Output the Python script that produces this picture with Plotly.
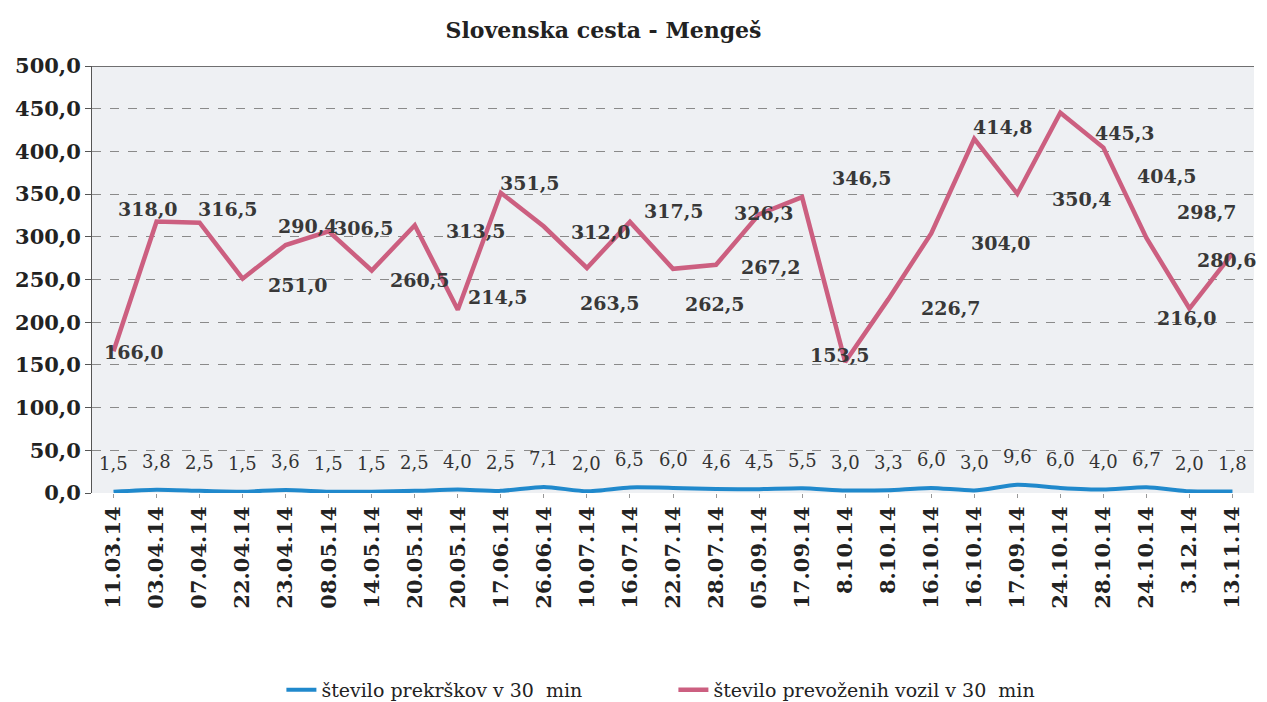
import plotly.graph_objects as go

dates = ["11.03.14", "03.04.14", "07.04.14", "22.04.14", "23.04.14", "08.05.14", "14.05.14",
         "20.05.14", "20.05.14", "17.06.14", "26.06.14", "10.07.14", "16.07.14", "22.07.14",
         "28.07.14", "05.09.14", "17.09.14", "8.10.14", "8.10.14", "16.10.14", "16.10.14",
         "17.09.14", "24.10.14", "28.10.14", "24.10.14", "3.12.14", "13.11.14"]

prekrskov = [1.5, 3.8, 2.5, 1.5, 3.6, 1.5, 1.5, 2.5, 4.0, 2.5, 7.1, 2.0, 6.5, 6.0, 4.6, 4.5, 5.5,
             3.0, 3.3, 6.0, 3.0, 9.6, 6.0, 4.0, 6.7, 2.0, 1.8]

vozil = [166.0, 318.0, 316.5, 251.0, 290.4, 306.5, 260.5, 313.5, 214.5, 351.5, 312.0, 263.5,
         317.5, 262.5, 267.2, 326.3, 346.5, 153.5, 226.7, 304.0, 414.8, 350.4, 445.3, 404.5,
         298.7, 216.0, 280.6]

name_blue = "število prekrškov v 30  min"
name_pink = "število prevoženih vozil v 30  min"

# label offsets in pixels (dx, dy up) for the pink series, as placed in the original
pink_label_dx = [20, -9, 28, 55, 22, 35, 48, 61, 40, 29, 57, 23, 44, 42, 55, 5, 60, -5, 63, 70,
                 29, 65, 65, 64, 61, -2, -5]
pink_label_dy = [-1, 12, 14, -6, 19, 3, -9, -6, 13, 10, -5, -35, 11, -35, -2, 1, 19, 7, -9, -10,
                 12, -5, -20, -28, 26, -9, -7]

serif = "DejaVu Serif"
x = list(range(len(dates)))

def fmt(v):
    return f"{v:.1f}".replace(".", ",")

fig = go.Figure()
fig.add_trace(go.Scatter(x=x, y=prekrskov, mode="lines", name=name_blue,
                         line=dict(color="#2089cc", width=4, shape="spline", smoothing=0.6)))
fig.add_trace(go.Scatter(x=x, y=vozil, mode="lines", name=name_pink,
                         line=dict(color="#cc5f80", width=4.5)))

annotations = []
for i, v in enumerate(prekrskov):
    annotations.append(dict(x=x[i], y=v, xref="x", yref="y", text=fmt(v), showarrow=False,
                            yshift=28, font=dict(family=serif, size=18, color="#333333")))
for i, v in enumerate(vozil):
    annotations.append(dict(x=x[i], y=v, xref="x", yref="y", text=fmt(v), showarrow=False,
                            xshift=pink_label_dx[i], yshift=pink_label_dy[i],
                            font=dict(family=serif, size=19, color="#383838", weight="bold")))

fig.update_layout(
    width=1259, height=694,
    margin=dict(l=84, r=13, t=58, b=209, autoexpand=False),
    paper_bgcolor="white", plot_bgcolor="#eef0f3",
    separators=",.",
    font=dict(family=serif),
    title=dict(text="Slovenska cesta - Mengeš", x=0.473, xanchor="center", xref="container",
               y=0.968, yanchor="middle", yref="container",
               font=dict(family=serif, size=22, color="#222222", weight="bold")),
    annotations=annotations,
    showlegend=True,
    legend=dict(orientation="h", x=0.163, xanchor="left", y=-0.461, yanchor="middle",
                entrywidth=347, entrywidthmode="pixels",
                font=dict(family=serif, size=19, color="#222222"), bgcolor="rgba(0,0,0,0)"),
)
fig.update_xaxes(range=[-0.5, len(dates) - 0.5], tickmode="array", tickvals=x, ticktext=dates,
                 tickangle=-90, showgrid=False, zeroline=False,
                 ticks="outside", ticklen=4, tickcolor="#999999",
                 tickfont=dict(family=serif, size=21, color="#222222", weight="bold"))
fig.update_yaxes(range=[0, 500], tickmode="linear", tick0=0, dtick=50, tickformat=".1f",
                 showgrid=True, gridcolor="#8a8a8a", griddash="dash", gridwidth=1,
                 zeroline=False, showline=True, linecolor="#555555", linewidth=1,
                 ticks="outside", ticklen=6, tickcolor="#555555",
                 tickfont=dict(family=serif, size=21, color="#222222", weight="bold"))
fig.add_shape(type="line", xref="paper", yref="y", x0=0, x1=1, y0=500, y1=500,
              line=dict(color="#444444", width=1.5))

fig.write_html("out.html")
